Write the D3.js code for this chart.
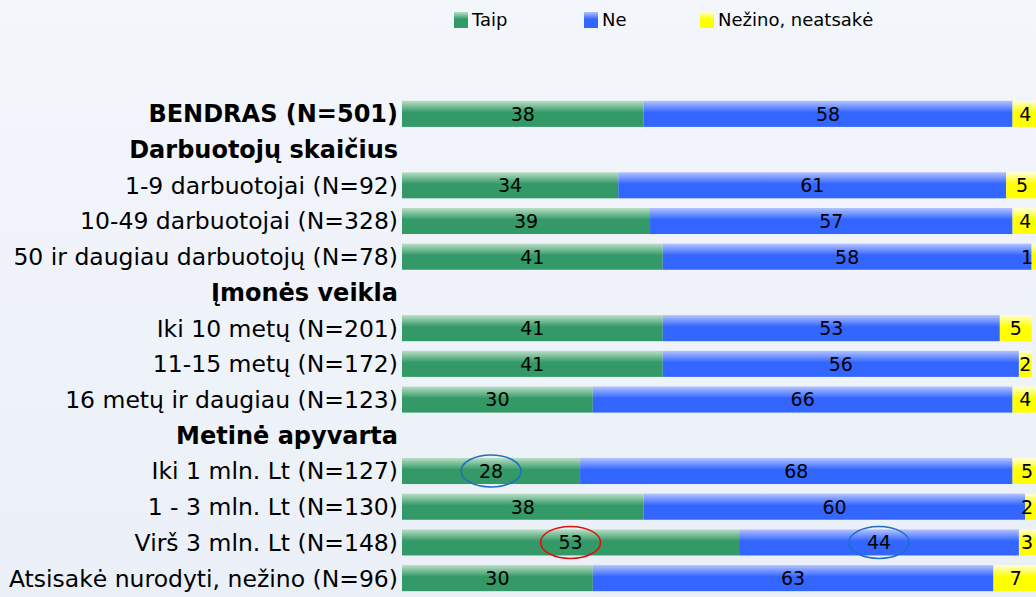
<!DOCTYPE html>
<html>
<head>
<meta charset="utf-8">
<script src="https://cdn.jsdelivr.net/npm/d3@7"></script>
<style>
  html, body { margin: 0; padding: 0; overflow: hidden; }
  body { background: #eef3fa; }
</style>
</head>
<body>
<div id="chart"></div>
<script>
// categories (null values = section header row)
const categories = [
    'BENDRAS (N=501)',
    'Darbuotojų skaičius',
    '1-9 darbuotojai (N=92)',
    '10-49 darbuotojai (N=328)',
    '50 ir daugiau darbuotojų (N=78)',
    'Įmonės veikla',
    'Iki 10 metų (N=201)',
    '11-15 metų (N=172)',
    '16 metų ir daugiau (N=123)',
    'Metinė apyvarta',
    'Iki 1 mln. Lt (N=127)',
    '1 - 3 mln. Lt (N=130)',
    'Virš 3 mln. Lt (N=148)',
    'Atsisakė nurodyti, nežino (N=96)'
];
const boldRows = ['BENDRAS (N=501)', 'Darbuotojų skaičius', 'Įmonės veikla', 'Metinė apyvarta'];

const taip   = [38, null, 34, 39, 41, null, 41, 41, 30, null, 28, 38, 53, 30];
const ne     = [58, null, 61, 57, 58, null, 53, 56, 66, null, 68, 60, 44, 63];
const nezino = [4,  null, 5,  4,  1,  null, 5,  2,  4,  null, 5,  2,  3,  7];

const seriesNames = ['Taip', 'Ne', 'Nežino, neatsakė'];

// highlighted values: [category, series, colour]
const highlights = [
    ['Iki 1 mln. Lt (N=127)', 'Taip', '#1f6fc0'],
    ['Virš 3 mln. Lt (N=148)', 'Taip', '#e01010'],
    ['Virš 3 mln. Lt (N=148)', 'Ne', '#1f6fc0']
];

const width = 1036, height = 597;
const font = 'DejaVu Sans, Verdana, sans-serif';

const svg = d3.select('#chart')
    .append('svg')
    .attr('width', width)
    .attr('height', height);

const defs = svg.append('defs');

// vertical gradients like the old office bars
const grads = [
    { id: 'g-taip', light: '#b9dfc6', dark: '#339966' },
    { id: 'g-ne', light: '#b3c3ff', dark: '#3366ff' },
    { id: 'g-nez', light: '#ffffd6', dark: '#ffff00' }
];
grads.forEach(g => {
    const lg = defs.append('linearGradient')
        .attr('id', g.id)
        .attr('x1', 0).attr('y1', 0).attr('x2', 0).attr('y2', 1);
    lg.append('stop').attr('offset', '0%').attr('stop-color', g.light);
    lg.append('stop').attr('offset', '45%').attr('stop-color', g.dark);
    lg.append('stop').attr('offset', '100%').attr('stop-color', g.dark);
});

const bgGrad = defs.append('linearGradient')
    .attr('id', 'g-bg')
    .attr('x1', 0).attr('y1', 0).attr('x2', 0).attr('y2', 1);
bgGrad.append('stop').attr('offset', '0%').attr('stop-color', '#f3f6fb');
bgGrad.append('stop').attr('offset', '100%').attr('stop-color', '#ebf0f8');

svg.append('rect')
    .attr('width', width)
    .attr('height', height)
    .attr('fill', 'url(#g-bg)');

// scales
const x = d3.scaleLinear()
    .domain([0, 100])
    .range([402, 1038]);

const y = d3.scaleBand()
    .domain(categories)
    .range([96, 596])
    .paddingInner(0.27)
    .paddingOuter(0.135);

const colors = {
    'Taip': 'url(#g-taip)',
    'Ne': 'url(#g-ne)',
    'Nežino, neatsakė': 'url(#g-nez)'
};

// build stacked table
const table = categories.map((c, i) => ({
    category: c,
    'Taip': taip[i],
    'Ne': ne[i],
    'Nežino, neatsakė': nezino[i]
}));
const dataRows = table.filter(d => d['Taip'] !== null);

const stacked = d3.stack().keys(seriesNames)(dataRows);

// category labels
svg.append('g')
    .selectAll('text')
    .data(categories)
    .enter()
    .append('text')
    .attr('x', 398)
    .attr('y', d => y(d) + y.bandwidth() / 2)
    .attr('dy', '0.36em')
    .attr('text-anchor', 'end')
    .style('font-family', font)
    .style('font-size', d => boldRows.includes(d) ? '24px' : '23.5px')
    .style('font-weight', d => boldRows.includes(d) ? 'bold' : 'normal')
    .style('fill', '#000')
    .text(d => d);

// bars
const layer = svg.append('g')
    .selectAll('g')
    .data(stacked)
    .enter()
    .append('g')
    .attr('fill', d => colors[d.key]);

layer.selectAll('rect')
    .data(d => d)
    .enter()
    .append('rect')
    .attr('x', d => x(d[0]))
    .attr('y', d => y(d.data.category))
    .attr('width', d => x(d[1]) - x(d[0]))
    .attr('height', y.bandwidth());

// value labels
const labels = svg.append('g');
stacked.forEach(s => {
    labels.selectAll(null)
        .data(s)
        .enter()
        .append('text')
        .attr('x', d => Math.min((x(d[0]) + x(d[1])) / 2, 1027))
        .attr('y', d => y(d.data.category) + y.bandwidth() / 2)
        .attr('dy', '0.36em')
        .attr('text-anchor', 'middle')
        .style('font-family', font)
        .style('font-size', '19px')
        .style('fill', '#000')
        .text(d => d[1] - d[0]);
});

// highlight ellipses
svg.append('g')
    .selectAll('ellipse')
    .data(highlights)
    .enter()
    .append('ellipse')
    .attr('cx', d => {
        const s = stacked.find(k => k.key === d[1]);
        const p = s.find(v => v.data.category === d[0]);
        return (x(p[0]) + x(p[1])) / 2;
    })
    .attr('cy', d => y(d[0]) + y.bandwidth() / 2)
    .attr('rx', 30)
    .attr('ry', 16)
    .attr('fill', 'none')
    .attr('stroke', d => d[2])
    .attr('stroke-width', 1.6);

// legend
const legendX = [454, 584, 700];
const legend = svg.append('g')
    .selectAll('g')
    .data(seriesNames)
    .enter()
    .append('g')
    .attr('transform', (d, i) => `translate(${legendX[i]}, 12)`);

legend.append('rect')
    .attr('width', 14)
    .attr('height', 16)
    .attr('fill', d => colors[d]);

legend.append('text')
    .attr('x', 18)
    .attr('y', 8)
    .attr('dy', '0.36em')
    .style('font-family', font)
    .style('font-size', '18px')
    .style('fill', '#000')
    .text(d => d);
</script>
</body>
</html>
